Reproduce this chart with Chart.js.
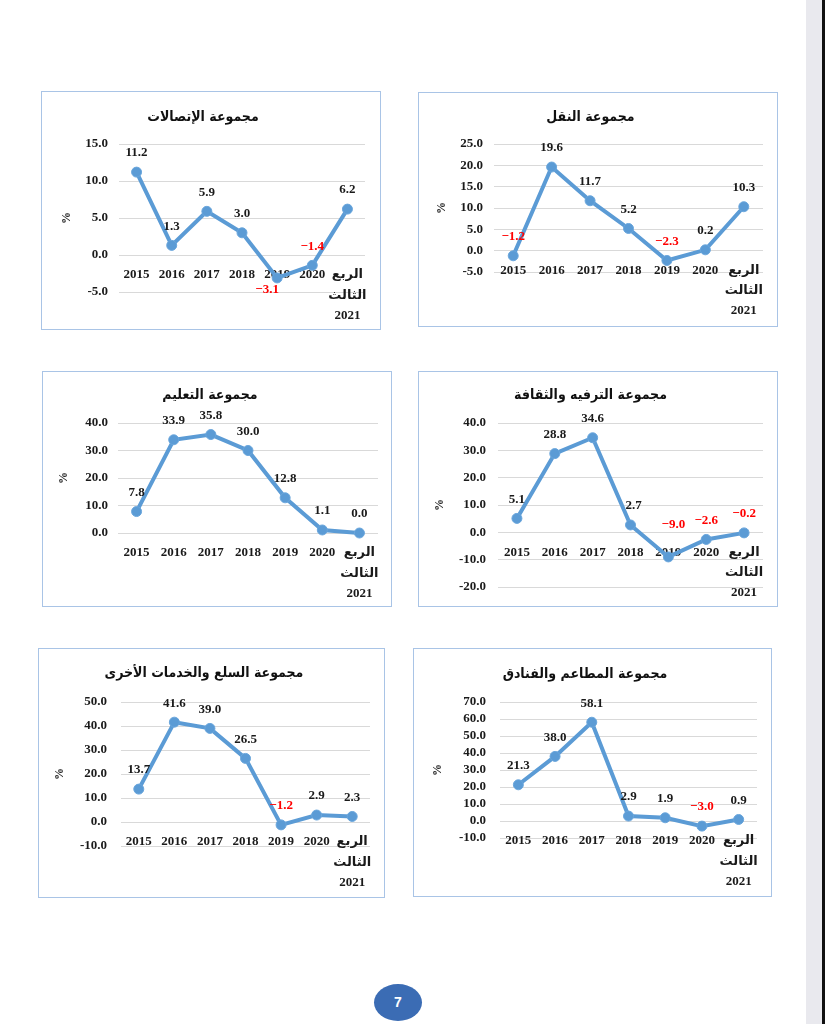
<!DOCTYPE html>
<html>
<head>
<meta charset="utf-8">
<script src="https://cdn.jsdelivr.net/npm/chart.js@4.4.1/dist/chart.umd.min.js"></script>
<style>
  body { margin: 0; background: #fff; }
  #page { position: relative; width: 825px; height: 1024px; overflow: hidden; background: #fff; }
  .panel { position: absolute; border: 1px solid #a9c4e6; box-sizing: border-box; }
  .panel canvas { position: absolute; left: -1px; top: -1px; }
  #strip { position: absolute; left: 806px; top: 0; width: 16px; height: 1024px; background: #e9e9ee; }
  #edge { position: absolute; left: 822px; top: 0; width: 3px; height: 1024px; background: #111; }
  #pageNum { position: absolute; left: 374px; top: 984px; width: 48px; height: 37px; border-radius: 50%;
    background: #3b6cb4; color: #fff; font: bold 14px "Liberation Sans", sans-serif; text-align: center; line-height: 37px; }
</style>
</head>
<body>
<div id="page">
  <div id="strip"></div>
  <div id="edge"></div>
  <div id="pageNum">7</div>
</div>
<script>
// Categories
const years = ["2015", "2016", "2017", "2018", "2019", "2020", ["الربع", "الثالث", "2021"]];

// Series values (% change)
const telecom = [11.2, 1.3, 5.9, 3.0, -3.1, -1.4, 6.2];
const transport = [-1.2, 19.6, 11.7, 5.2, -2.3, 0.2, 10.3];
const education = [7.8, 33.9, 35.8, 30.0, 12.8, 1.1, 0.0];
const recreation = [5.1, 28.8, 34.6, 2.7, -9.0, -2.6, -0.2];
const goods = [13.7, 41.6, 39.0, 26.5, -1.2, 2.9, 2.3];
const restaurants = [21.3, 38.0, 58.1, 2.9, 1.9, -3.0, 0.9];

// Titles
const titles = [
	"مجموعة الإتصالات",
	"مجموعة النقل",
	"مجموعة التعليم",
	"مجموعة الترفيه والثقافة",
	"مجموعة السلع والخدمات الأخرى",
	"مجموعة المطاعم والفنادق"
];

// Y axis ranges [min, max, step]
const ranges = [[-5, 15, 5], [-5, 25, 5], [0, 40, 10], [-20, 40, 10], [-10, 50, 10], [-10, 70, 10]];

const seriesList = [telecom, transport, education, recreation, goods, restaurants];

// Panel layout (box on page and plot area inside it)
const panels = [
	{ box: [41, 91, 340, 239], area: [78, 324, 53, 201], titleY: 26, tickPad: 11, pctX: 26, shift: { 4: [-10, 12] } },
	{ box: [418, 92, 360, 235], area: [76, 345, 52, 180], titleY: 25, tickPad: 11, pctX: 24, shift: {} },
	{ box: [42, 371, 350, 236], area: [76, 336, 52, 162], titleY: 24, tickPad: 10, pctX: 22, shift: {} },
	{ box: [418, 371, 360, 236], area: [80, 345, 52, 216], titleY: 24, tickPad: 12, pctX: 22, shift: { 4: [5, -32], 3: [3, -19] } },
	{ box: [38, 648, 347, 250], area: [83, 332, 54, 198], titleY: 25, tickPad: 14, pctX: 22, shift: {} },
	{ box: [413, 648, 359, 249], area: [87, 344, 54, 190], titleY: 26, tickPad: 14, pctX: 25, shift: {} }
];

const serif = '"Liberation Serif", "DejaVu Sans", serif';
const lineBlue = "#5b9bd5";

// draws the value above each point
const valueLabels = {
	id: "valueLabels",
	afterDatasetsDraw(chart, args, opts) {
		const ctx = chart.ctx;
		const meta = chart.getDatasetMeta(0);
		const values = chart.data.datasets[0].data;
		ctx.save();
		ctx.font = "bold 13px " + serif;
		ctx.textAlign = "center";
		ctx.textBaseline = "middle";
		meta.data.forEach(function (pt, i) {
			let v = values[i];
			let s = opts.shift[i] || [0, -19];
			let txt = v < 0 ? "\u2212" + Math.abs(v).toFixed(1) : v.toFixed(1);
			ctx.fillStyle = v < 0 ? "#ff0000" : "#1a1a1a";
			ctx.fillText(txt, pt.x + s[0], pt.y + s[1]);
		});
		ctx.restore();
	}
};

const pageDiv = document.getElementById("page");

panels.forEach(function (p, n) {
	const [bx, by, bw, bh] = p.box;
	const [aLeft, aRight, aTop, aBottom] = p.area;
	const div = document.createElement("div");
	div.className = "panel";
	div.style.left = bx + "px";
	div.style.top = by + "px";
	div.style.width = bw + "px";
	div.style.height = bh + "px";
	const canvas = document.createElement("canvas");
	canvas.width = bw;
	canvas.height = bh;
	div.appendChild(canvas);
	pageDiv.appendChild(div);

	const titleLine = 14 * 1.2;
	const tTop = p.titleY - titleLine / 2;
	const tBottom = aTop - tTop - titleLine;
	const r = ranges[n];

	new Chart(canvas.getContext("2d"), {
		type: "line",
		data: {
			labels: years,
			datasets: [
				{
					data: seriesList[n],
					borderColor: lineBlue,
					backgroundColor: lineBlue,
					borderWidth: 4,
					pointRadius: 5,
					pointBorderWidth: 1,
					pointBorderColor: "#6aa6dc",
					pointBackgroundColor: lineBlue,
					tension: 0,
					clip: false
				}
			]
		},
		options: {
			responsive: false,
			animation: false,
			devicePixelRatio: 1,
			layout: {
				padding: { top: 0, left: 0, right: bw - aRight, bottom: bh - aBottom }
			},
			plugins: {
				legend: { display: false },
				tooltip: { enabled: false },
				title: {
					display: true,
					text: titles[n],
					color: "#111",
					font: { family: '"DejaVu Sans Condensed", "DejaVu Sans", sans-serif', size: 14, weight: "bold", lineHeight: 1.2 },
					padding: { top: tTop, bottom: tBottom }
				},
				valueLabels: { shift: p.shift }
			},
			scales: {
				x: {
					type: "category",
					offset: true,
					position: { y: 0 },
					grid: { display: false, drawTicks: false },
					border: { display: false },
					ticks: {
						color: "#1a1a1a",
						font: { family: serif, size: 13, weight: "bold", lineHeight: 1.55 },
						padding: 10,
						maxRotation: 0,
						autoSkip: false
					}
				},
				y: {
					min: r[0],
					max: r[1],
					afterFit: function (scale) {
						scale.width = aLeft;
					},
					grid: { color: "#d9d9d9", lineWidth: 1, drawTicks: false },
					border: { display: false },
					ticks: {
						stepSize: r[2],
						autoSkip: false,
						color: "#1a1a1a",
						font: { family: serif, size: 13, weight: "bold" },
						padding: p.tickPad,
						callback: function (v) {
							return Number(v).toFixed(1);
						}
					},
					title: {
						display: true,
						text: "%",
						color: "#1a1a1a",
						font: { family: serif, size: 12, weight: "bold", lineHeight: 1.2 },
						padding: { top: p.pctX - 7.2, bottom: 0 }
					}
				}
			}
		},
		plugins: [valueLabels]
	});
});
</script>
</body>
</html>
